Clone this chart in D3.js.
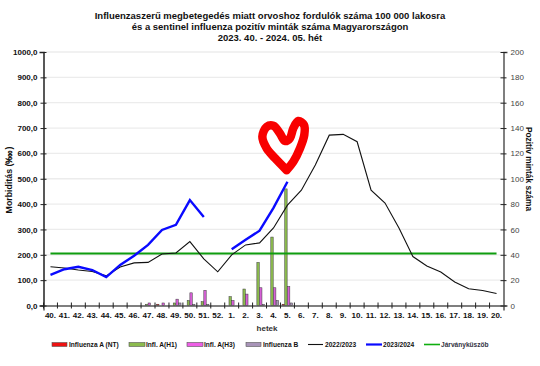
<!DOCTYPE html>
<html>
<head>
<meta charset="utf-8">
<script src="https://cdnjs.cloudflare.com/ajax/libs/d3/7.8.5/d3.min.js"></script>
<style>
    html, body { margin: 0; padding: 0; background: #fff; }
    text { font-family: "Liberation Sans", Arial, sans-serif; }
</style>
</head>
<body>
<div id="chart"></div>
<script>
// week labels
const weeks = ["40.","41.","42.","43.","44.","45.","46.","47.","48.","49.","50.","51.","52.",
    "1.","2.","3.","4.","5.","6.","7.","8.","9.","10.","11.","12.","13.","14.","15.","16.","17.","18.","19.","20."];

// morbidity, left axis
const season2223 = [153,148,140,134,117,152,168,170,203,207,252,184,133,200,239,247,306,396,455,554,672,675,646,455,404,306,193,156,132,93,66,59,47];
const season2324 = [121,143,153,140,112,160,196,239,298,318,416,349,null,222,259,295,385,488];
const threshold = 205;

// positive samples, right axis
const inflNT = [0,0,0,0,0,0,0,0,1,0,0,0,0,0,0,0,0,1];
const inflH1 = [0,0,0,0,0,0,0,1,0,2,4,3,0,7,13,34,54,92];
const inflH3 = [0,0,0,0,0,0,0,2,2,5,10,12,0,4,9,14,14,15];
const inflB  = [0,0,0,0,0,0,0,0,0,2,1,1,0,0,0,1,4,2];

const leftTicks = [0,100,200,300,400,500,600,700,800,900,1000];
const rightTicks = [0,20,40,60,80,100,120,140,160,180,200];

// heart scribble, in week position / left axis units
const heart = [[16.94,534],[16.11,581],[15.51,620],[15.2,666],[15.51,705],[15.99,709],[16.46,679],[16.82,649],[17.18,660],[17.42,699],[17.78,728],[18.19,712],[18.21,673],[17.9,620],[17.42,567],[16.94,534]];

const margin = {top: 52, right: 36.5, bottom: 60.5, left: 43.5};
const width = 540 - margin.left - margin.right;
const height = 366 - margin.top - margin.bottom;

const svg = d3.select("#chart").append("svg")
    .attr("width", 540)
    .attr("height", 366)
    .style("display", "block");

const g = svg.append("g")
    .attr("transform", "translate(" + margin.left + "," + margin.top + ")");

// Scales and axes
const x = d3.scaleBand().domain(d3.range(weeks.length)).range([0, width]);
const xc = i => x(i) + x.bandwidth() / 2;
const xPos = d3.scaleLinear().domain([0, weeks.length - 1]).range([xc(0), xc(weeks.length - 1)]);
const yLeft = d3.scaleLinear().domain([0, 1000]).range([height, 0]);
const yRight = d3.scaleLinear().domain([0, 200]).range([height, 0]);

// grid
g.selectAll(".grid").data(leftTicks.slice(1)).join("line")
    .attr("x1", 0).attr("x2", width)
    .attr("y1", d => yLeft(d)).attr("y2", d => yLeft(d))
    .attr("stroke", "#ececec").attr("stroke-width", 1.3);

// bars
const barSeries = [
    {name: "Influenza A (NT)", values: inflNT, color: "#ee1111", offset: -4.2},
    {name: "Infl. A(H1)", values: inflH1, color: "#8cbb4e", offset: -1.5},
    {name: "Infl. A(H3)", values: inflH3, color: "#d65fd6", offset: 1.2},
    {name: "Influenza B", values: inflB, color: "#a894b8", offset: 3.9}
];
barSeries.forEach(s => {
    g.selectAll(null).data(s.values.map((v, i) => ({v, i})).filter(d => d.v > 0)).join("rect")
        .attr("x", d => xc(d.i) + s.offset - 1.2)
        .attr("y", d => yRight(d.v))
        .attr("width", 2.4)
        .attr("height", d => height - yRight(d.v))
        .attr("fill", s.color)
        .attr("stroke", "#3c3c3c")
        .attr("stroke-width", 0.5);
});

// threshold
g.append("line")
    .attr("x1", xc(0)).attr("x2", xc(weeks.length - 1))
    .attr("y1", yLeft(threshold)).attr("y2", yLeft(threshold))
    .attr("stroke", "#0f9d0f").attr("stroke-width", 2);

const line = d3.line()
    .defined(d => d !== null)
    .x((d, i) => xc(i))
    .y(d => yLeft(d));

g.append("path").datum(season2223)
    .attr("fill", "none").attr("stroke", "#111").attr("stroke-width", 1.1)
    .attr("d", line);

g.append("path").datum(season2324)
    .attr("fill", "none").attr("stroke", "#0a0aff").attr("stroke-width", 2.4)
    .attr("d", line);

// heart
g.append("path").datum(heart)
    .attr("fill", "none").attr("stroke", "#f80000").attr("stroke-width", 8.5)
    .attr("stroke-linecap", "round").attr("stroke-linejoin", "round")
    .attr("d", d3.line().curve(d3.curveCatmullRom).x(d => xPos(d[0])).y(d => yLeft(d[1])));

// axes
const xAxis = d3.axisBottom(x).tickSize(5).tickPadding(2).tickFormat(i => weeks[i]);
const leftAxis = d3.axisLeft(yLeft).tickValues(leftTicks).tickSize(4).tickPadding(2)
    .tickFormat(d => d3.format(".1f")(d).replace(".", ","));
const rightAxis = d3.axisRight(yRight).tickValues(rightTicks).tickSize(4).tickPadding(3);

const gx = g.append("g").attr("transform", "translate(0," + height + ")").call(xAxis);
gx.selectAll(".tick line").attr("x1", -x.step() / 2).attr("x2", -x.step() / 2).attr("y1", -3).attr("y2", 3).attr("stroke", "#222");
gx.selectAll("text").attr("font-size", 8).attr("font-weight", "bold").attr("fill", "#111");
gx.select(".domain").attr("stroke", "#555").attr("stroke-width", 1.5);

const gl = g.append("g").call(leftAxis);
gl.selectAll("text").attr("font-size", 8).attr("font-weight", "bold").attr("fill", "#111");
gl.selectAll(".tick line").attr("x1", -3).attr("x2", 3).attr("stroke", "#222");
gl.select(".domain").attr("stroke", "#222").attr("stroke-width", 1.5);

const gr = g.append("g").attr("transform", "translate(" + width + ",0)").call(rightAxis);
gr.selectAll("text").attr("font-size", 8).attr("fill", "#444");
gr.selectAll(".tick line").attr("x1", -3).attr("x2", 3).attr("stroke", "#222");
gr.select(".domain").attr("stroke", "#555").attr("stroke-width", 1.5);

// titles
const titles = [
    "Influenzaszerű megbetegedés miatt orvoshoz fordulók száma 100 000 lakosra",
    "és a sentinel influenza pozitív minták száma Magyarországon",
    "2023. 40. - 2024. 05. hét"
];
svg.selectAll(".title").data(titles).join("text")
    .attr("x", 270)
    .attr("y", (d, i) => 19 + i * 11)
    .attr("text-anchor", "middle")
    .attr("font-size", 9.5)
    .attr("font-weight", "bold")
    .attr("fill", "#111")
    .text(d => d);

svg.append("text")
    .attr("transform", "translate(12,180) rotate(-90)")
    .attr("text-anchor", "middle").attr("font-size", 8.8).attr("font-weight", "bold").attr("fill", "#111")
    .text("Morbiditás (‱)");

svg.append("text")
    .attr("transform", "translate(526,169) rotate(90)")
    .attr("text-anchor", "middle").attr("font-size", 8.4).attr("font-weight", "bold").attr("fill", "#111")
    .text("Pozitív minták száma");

svg.append("text")
    .attr("x", 267).attr("y", 331)
    .attr("text-anchor", "middle").attr("font-size", 8).attr("font-weight", "bold").attr("fill", "#333")
    .text("hetek");

// legend
const legendBars = [
    {label: barSeries[0].name, color: barSeries[0].color, x0: 52, x1: 67, tx: 69},
    {label: barSeries[1].name, color: barSeries[1].color, x0: 129, x1: 145, tx: 146},
    {label: barSeries[2].name, color: "#ee5fe6", x0: 187, x1: 203, tx: 204},
    {label: barSeries[3].name, color: barSeries[3].color, x0: 246, x1: 261, tx: 263}
];
const legend = svg.append("g");
legendBars.forEach(d => {
    legend.append("rect").attr("x", d.x0).attr("y", 342.5).attr("width", d.x1 - d.x0).attr("height", 4)
        .attr("fill", d.color).attr("stroke", "#555").attr("stroke-width", 0.6);
    legend.append("text").attr("x", d.tx).attr("y", 347).attr("font-size", 6.6).attr("font-weight", "bold").attr("fill", "#111").text(d.label);
});
const legendLines = [
    {label: "2022/2023", color: "#111", w: 1.1, x0: 308, x1: 323, tx: 325, fill: "#111"},
    {label: "2023/2024", color: "#0a0aff", w: 2.2, x0: 366, x1: 382, tx: 383, fill: "#111"},
    {label: "Járványküszöb", color: "#0fae0f", w: 1.6, x0: 424, x1: 440, tx: 441, fill: "#334"}
];
legendLines.forEach(d => {
    legend.append("line").attr("x1", d.x0).attr("x2", d.x1).attr("y1", 344.5).attr("y2", 344.5)
        .attr("stroke", d.color).attr("stroke-width", d.w);
    legend.append("text").attr("x", d.tx).attr("y", 347).attr("font-size", 6.6).attr("font-weight", "bold").attr("fill", d.fill).text(d.label);
});
</script>
</body>
</html>
